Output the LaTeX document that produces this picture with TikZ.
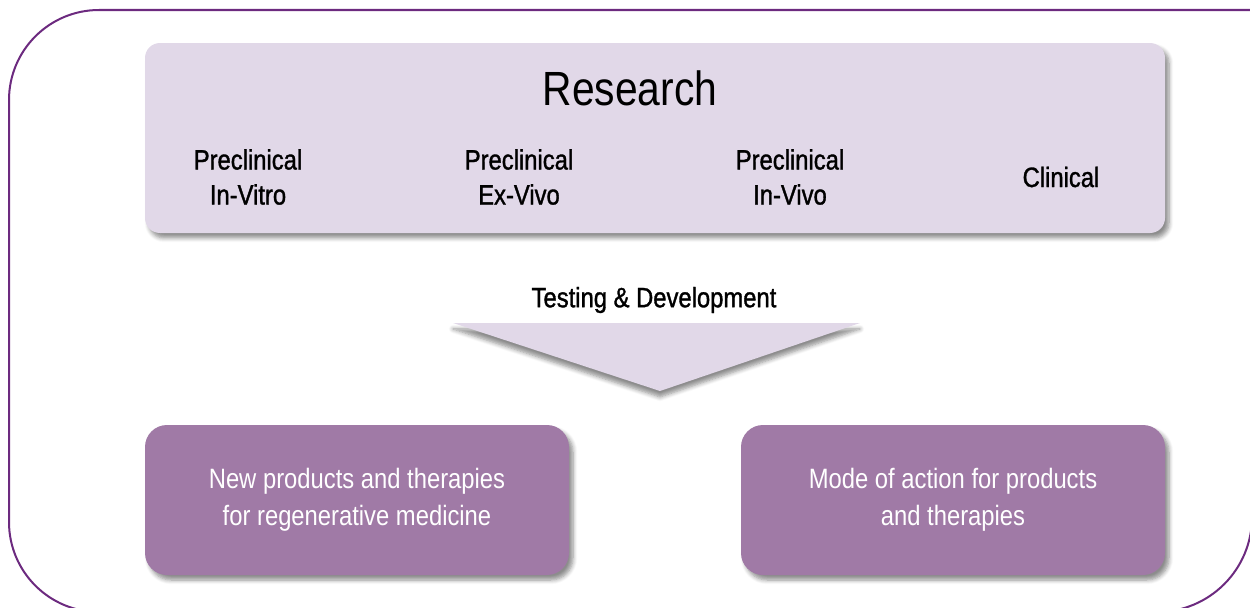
\documentclass[tikz,border=0pt]{standalone}
\usepackage{fontspec}
\setmainfont[FakeStretch=0.85]{Liberation Sans}
\newfontfamily\phasefont[FakeStretch=0.85,FakeBold=1.2]{Liberation Sans}
\usepackage{tikz}
\usetikzlibrary{positioning,shadows,shadows.blur}
\definecolor{framepurple}{HTML}{6C2A7F}
\definecolor{lightlilac}{HTML}{E1D8E8}
\definecolor{midlilac}{HTML}{A07AA6}

\begin{document}
\begin{tikzpicture}[x=0.5pt,y=0.5pt,
    researchbox/.style={fill=lightlilac,rounded corners=7.5pt,minimum width=510pt,minimum height=95pt,blur shadow={shadow xshift=2pt,shadow yshift=-2.5pt,shadow opacity=45,shadow blur steps=6}},
    outcomebox/.style={fill=midlilac,rounded corners=11pt,minimum width=212pt,minimum height=75pt,text=white,align=center,font=\fontsize{14}{18.5}\selectfont,blur shadow={shadow xshift=2pt,shadow yshift=-2.5pt,shadow opacity=45,shadow blur steps=6}},
    phase/.style={align=center,font=\phasefont\fontsize{14}{17.5}\selectfont}]
      \useasboundingbox (0,0) rectangle (1250,607);
      \begin{scope}
      \clip (0,0) rectangle (1250,607);
      \draw[framepurple,line width=1pt] (1252,597) -- (99,597) arc[start angle=90,end angle=180,radius=90]
        -- (9,85) arc[start angle=180,end angle=270,radius=90] -- (1157,-5)
        arc[start angle=270,end angle=360,radius=95] -- cycle;
      \end{scope}

      \node[researchbox] (research) at (655,469) {};
      \node[font=\fontsize{24}{28}\selectfont] (title) at (630,519) {Research};
      \node[phase] (invitro) at (248,430) {Preclinical\\In-Vitro};
      \node[phase] (exvivo) at (519,430) {Preclinical\\Ex-Vivo};
      \node[phase] (invivo) at (790,430) {Preclinical\\In-Vivo};
      \node[phase] (clinical) at (1061,430) {Clinical};

      \node[phase] (testing) at (654,307) {Testing \& Development};
      \fill[lightlilac,blur shadow={shadow xshift=0pt,shadow yshift=-3pt,shadow opacity=45,shadow blur steps=6}]
        (453,284) -- (860,284) -- (660,216) -- cycle;

      \node[outcomebox] (newproducts) at (357,107) {New products and therapies\\for regenerative medicine};
      \node[outcomebox] (modeofaction) at (953,107) {Mode of action for products\\and therapies};
    \end{tikzpicture}
\end{document}
